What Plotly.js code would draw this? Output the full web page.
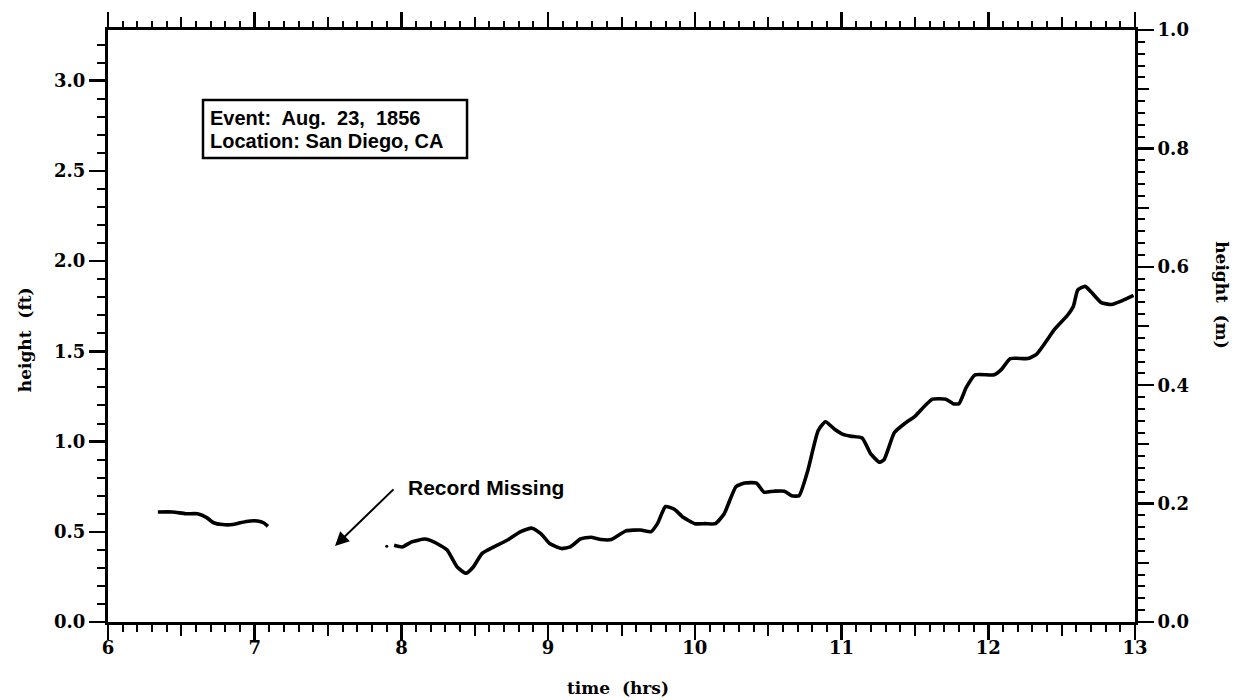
<!DOCTYPE html>
<html>
<head>
<meta charset="utf-8">
<script src="https://cdn.plot.ly/plotly-3.0.1.min.js"></script>
<style>
html, body { margin: 0; padding: 0; background: #fff; }
#chart { width: 1235px; height: 700px; }
</style>
</head>
<body>
<div id="chart"></div>
<script>
// Record before the gap (hrs, ft)
const timeA = [6.34, 6.44, 6.53, 6.61, 6.67, 6.72, 6.78, 6.85, 6.90, 6.97, 7.02, 7.06, 7.09];
const heightA = [0.61, 0.61, 0.60, 0.60, 0.58, 0.55, 0.54, 0.54, 0.55, 0.56, 0.56, 0.55, 0.53];

// Isolated dot at start of second record
const timeDot = [7.90];
const heightDot = [0.42];

// Record after the gap (hrs, ft)
const timeB = [7.95, 8.005, 8.07, 8.16, 8.22, 8.31, 8.38, 8.44, 8.49, 8.55, 8.63, 8.72, 8.81, 8.89, 8.95,
  9.01, 9.09, 9.15, 9.22, 9.29, 9.36, 9.43, 9.53, 9.63, 9.70, 9.745, 9.80, 9.86, 9.92, 10.0, 10.07, 10.14,
  10.2, 10.28, 10.34, 10.42, 10.47, 10.54, 10.61, 10.66, 10.71, 10.77, 10.84, 10.89, 10.95, 11.01, 11.06,
  11.14, 11.20, 11.26, 11.29, 11.36, 11.43, 11.50, 11.57, 11.62, 11.71, 11.76, 11.80, 11.85, 11.91, 12.04,
  12.09, 12.15, 12.27, 12.33, 12.39, 12.45, 12.54, 12.58, 12.61, 12.66, 12.70, 12.77, 12.84, 12.91, 12.99];
const heightB = [0.425, 0.416, 0.444, 0.46, 0.444, 0.40, 0.305, 0.27, 0.305, 0.38, 0.416, 0.453, 0.50, 0.52, 0.49,
  0.435, 0.407, 0.416, 0.46, 0.47, 0.457, 0.457, 0.505, 0.51, 0.50, 0.545, 0.64, 0.625, 0.58, 0.545, 0.545, 0.545,
  0.60, 0.75, 0.77, 0.77, 0.72, 0.725, 0.725, 0.70, 0.70, 0.84, 1.06, 1.11, 1.07, 1.04, 1.03,
  1.02, 0.93, 0.885, 0.90, 1.05, 1.10, 1.14, 1.20, 1.235, 1.235, 1.21, 1.21, 1.30, 1.37, 1.37,
  1.40, 1.46, 1.46, 1.485, 1.55, 1.62, 1.70, 1.75, 1.84, 1.86, 1.83, 1.77, 1.76, 1.78, 1.81];

// Tick labels
const hourLabels = ['6', '7', '8', '9', '10', '11', '12', '13'];

const FT_PER_M = 3.2808;
const xRange = [6, 13];
const yRangeFt = [0, FT_PER_M];
const yRangeM = [0, 1];

const infoLines = ['Event:  Aug.  23,  1856', 'Location: San Diego, CA'];
const missingText = 'Record Missing';
const xTitle = 'time  (hrs)';
const yTitleFt = 'height  (ft)';
const yTitleM = 'height  (m)';

const timeAll = timeA.concat([null], timeB);
const heightAll = heightA.concat([null], heightB);

// tenth-hour tick positions on the bottom axis, labelled only on whole hours
const tenthVals = [], tenthText = [], halfOnly = [];
for (let i = 0; i <= 70; i++) {
  tenthVals.push(Math.round((xRange[0] + i * 0.1) * 10) / 10);
  tenthText.push(i % 10 === 0 ? hourLabels[i / 10] : '');
  if (i % 10 === 5) halfOnly.push(Math.round((xRange[0] + i * 0.1) * 10) / 10);
}
const tenthM = [0.1, 0.3, 0.5, 0.7, 0.9];

const tickFont = { family: 'DejaVu Serif', size: 18, color: '#000', weight: 'bold' };
const titleFont = { family: 'DejaVu Serif', size: 17, color: '#000', weight: 'bold' };
const boxFont = { family: 'Liberation Sans, Arial', size: 20, color: '#000', weight: 'bold' };

function emptyTrace(xa, ya) {
  return { x: [], y: [], type: 'scatter', mode: 'lines', xaxis: xa, yaxis: ya, hoverinfo: 'skip' };
}

const traces = [
  { x: timeAll, y: heightAll, type: 'scatter', mode: 'lines', connectgaps: false,
    line: { color: '#000', width: 3.6, shape: 'spline', smoothing: 0.5 }, hoverinfo: 'skip' },
  { x: timeDot, y: heightDot, type: 'scatter', mode: 'markers',
    marker: { color: '#000', size: 3 }, hoverinfo: 'skip' },
  emptyTrace('x2', 'y'), emptyTrace('x3', 'y'), emptyTrace('x4', 'y'),
  emptyTrace('x', 'y2'), emptyTrace('x', 'y3')
];

const base = { showgrid: false, zeroline: false, tickcolor: '#000',
  showline: true, linewidth: 3, linecolor: '#000' };

const layout = {
  width: 1235, height: 700,
  margin: { l: 108, r: 100, t: 30, b: 78, pad: 0 },
  paper_bgcolor: '#fff', plot_bgcolor: '#fff',
  showlegend: false,
  xaxis: Object.assign({}, base, {
    range: xRange, tickmode: 'array', tickvals: tenthVals, ticktext: tenthText,
    ticks: 'outside', ticklen: 7, tickwidth: 2, tickfont: tickFont
  }),
  xaxis2: Object.assign({}, base, {
    overlaying: 'x', anchor: 'y', side: 'bottom', range: xRange, tick0: 6, dtick: 1,
    ticks: 'outside', ticklen: 15, tickwidth: 2.5, showticklabels: false,
    minor: { dtick: 0.5, tick0: 6, ticks: 'outside', ticklen: 11, tickwidth: 2, tickcolor: '#000' }
  }),
  xaxis3: Object.assign({}, base, {
    overlaying: 'x', anchor: 'y', side: 'top', range: xRange, tick0: 6, dtick: 1,
    ticks: 'outside', ticklen: 15, tickwidth: 2.5, showticklabels: false,
    minor: { dtick: 0.1, tick0: 6, ticks: 'outside', ticklen: 6, tickwidth: 2, tickcolor: '#000' }
  }),
  xaxis4: Object.assign({}, base, {
    overlaying: 'x', anchor: 'y', side: 'top', range: xRange, tickmode: 'array', tickvals: halfOnly,
    ticks: 'outside', ticklen: 10, tickwidth: 2, showticklabels: false
  }),
  yaxis: Object.assign({}, base, {
    range: yRangeFt, tick0: 0, dtick: 0.5, tickformat: '.1f', ticks: 'outside', ticklen: 16, tickwidth: 2.5,
    minor: { dtick: 0.1, tick0: 0, ticks: 'outside', ticklen: 8, tickwidth: 2, tickcolor: '#000' },
    tickfont: tickFont
  }),
  yaxis2: Object.assign({}, base, {
    overlaying: 'y', anchor: 'x', side: 'right', range: yRangeM, tick0: 0, dtick: 0.2, tickformat: '.1f',
    ticks: 'outside', ticklen: 16, tickwidth: 2.5,
    minor: { dtick: 0.02, tick0: 0, ticks: 'outside', ticklen: 7, tickwidth: 2, tickcolor: '#000' },
    tickfont: tickFont
  }),
  yaxis3: Object.assign({}, base, {
    overlaying: 'y', anchor: 'x', side: 'right', range: yRangeM, tickmode: 'array', tickvals: tenthM,
    ticks: 'outside', ticklen: 11, tickwidth: 2, showticklabels: false
  }),
  shapes: [
    { type: 'rect', xref: 'paper', yref: 'paper', x0: 0.0925, x1: 0.3496, y0: 0.7838, y1: 0.8818,
      line: { color: '#000', width: 2.5 }, fillcolor: 'rgba(0,0,0,0)' }
  ],
  annotations: [
    { xref: 'paper', yref: 'paper', x: 0.0975, y: 0.852, xanchor: 'left', yanchor: 'middle',
      text: infoLines[0], showarrow: false, font: boxFont },
    { xref: 'paper', yref: 'paper', x: 0.0975, y: 0.812, xanchor: 'left', yanchor: 'middle',
      text: infoLines[1], showarrow: false, font: boxFont },
    { xref: 'x', yref: 'y', x: 8.03, y: 0.745, xanchor: 'left', yanchor: 'middle',
      text: missingText, showarrow: false,
      font: { family: 'Liberation Sans, Arial', size: 21, color: '#000', weight: 'bold' } },
    { xref: 'x', yref: 'y', axref: 'x', ayref: 'y', x: 7.547, y: 0.421, ax: 7.956, ay: 0.743,
      text: '', showarrow: true, arrowhead: 2, arrowsize: 1.4, arrowwidth: 2, arrowcolor: '#000' },
    { xref: 'paper', yref: 'paper', x: 0.4966, y: -0.1115, xanchor: 'center', yanchor: 'middle',
      text: xTitle, showarrow: false, font: titleFont },
    { xref: 'paper', yref: 'paper', x: 0, xshift: -83, y: 0.476, xanchor: 'center', yanchor: 'middle',
      text: yTitleFt, textangle: -90, showarrow: false, font: titleFont },
    { xref: 'paper', yref: 'paper', x: 1, xshift: 87, y: 0.552, xanchor: 'center', yanchor: 'middle',
      text: yTitleM, textangle: 90, showarrow: false, font: titleFont }
  ]
};

Plotly.newPlot('chart', traces, layout, { staticPlot: true, displayModeBar: false });
</script>
</body>
</html>
